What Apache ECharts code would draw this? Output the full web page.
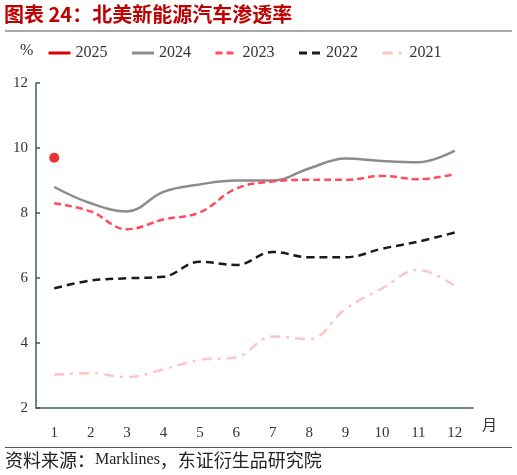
<!DOCTYPE html>
<html>
<head>
<meta charset="utf-8">
<script src="https://cdn.jsdelivr.net/npm/echarts@6/dist/echarts.min.js"></script>
<style>
  html, body { margin: 0; padding: 0; background: #fff; }
  #main { width: 517px; height: 475px; }
</style>
</head>
<body>
<div id="main"></div>
<script>
var months = ['1', '2', '3', '4', '5', '6', '7', '8', '9', '10', '11', '12'];
var y2025 = [9.7, null, null, null, null, null, null, null, null, null, null, null];
var y2024 = [8.8, 8.3, 8.05, 8.65, 8.88, 9.0, 9.0, 9.37, 9.68, 9.6, 9.56, 9.92];
var y2023 = [8.3, 8.05, 7.5, 7.8, 8.02, 8.75, 8.97, 9.02, 9.02, 9.14, 9.04, 9.2];
var y2022 = [5.68, 5.92, 5.99, 6.04, 6.5, 6.4, 6.8, 6.64, 6.64, 6.9, 7.12, 7.4];
var y2021 = [3.02, 3.07, 2.95, 3.19, 3.48, 3.56, 4.2, 4.12, 5.05, 5.68, 6.25, 5.75];
var yTicks = [2, 4, 6, 8, 10, 12];

var serif = '"Liberation Serif", "DejaVu Serif", serif';
var cjk = '"Noto Sans CJK SC", sans-serif';
var axisColor = '#3f5b5b';

var myChart = echarts.init(document.getElementById('main'));

function lineSeries(name, data, color, type) {
  return {
    name: name,
    type: 'line',
    data: data,
    smooth: 0.4,
    symbol: 'none',
    lineStyle: { color: color, width: 2.5, type: type },
    itemStyle: { color: color },
    z: 3
  };
}

myChart.setOption({
  animation: false,
  grid: { left: 36, right: 44, top: 83, bottom: 67 },
  legend: {
    left: 42,
    top: 40,
    itemWidth: 22,
    itemHeight: 10,
    itemGap: 23,
    itemStyle: { opacity: 0 },
    lineStyle: { width: 3 },
    textStyle: { fontFamily: serif, fontSize: 16, color: '#333' },
    data: ['2025', '2024', '2023', '2022', '2021']
  },
  xAxis: {
    type: 'category',
    data: months,
    boundaryGap: true,
    axisLine: { lineStyle: { color: axisColor, width: 1.5 } },
    axisTick: { inside: true, length: 4, lineStyle: { color: axisColor, width: 1.5 } },
    axisLabel: { fontFamily: serif, fontSize: 15, color: '#333', margin: 18 }
  },
  yAxis: {
    type: 'value',
    min: 2,
    max: 12,
    interval: 2,
    splitLine: { show: false },
    axisLine: { show: true, lineStyle: { color: axisColor, width: 1.5 } },
    axisTick: { show: true, inside: true, length: 4, lineStyle: { color: axisColor, width: 1.5 } },
    axisLabel: { fontFamily: serif, fontSize: 15, color: '#333', margin: 8,
      formatter: function (v) { return yTicks.indexOf(v) >= 0 ? String(v) : ''; } }
  },
  series: [
    lineSeries('2025', months.map(function () { return null; }), '#e00000', 'solid'),
    lineSeries('2024', y2024, '#8c8c8c', 'solid'),
    lineSeries('2023', y2023, '#ff4b5a', [7, 4]),
    lineSeries('2022', y2022, '#1a1a1a', [8, 5]),
    lineSeries('2021', y2021, '#ffc4c4', [10, 6, 3, 6]),
    {
      name: '2025点',
      type: 'scatter',
      data: y2025,
      symbol: 'circle',
      symbolSize: 10,
      itemStyle: { color: '#e00000' },
      z: 5
    }
  ],
  graphic: [
    { type: 'text', left: 4, top: 4,
      style: { text: '图表 24：北美新能源汽车渗透率', fill: '#c00000',
        font: 'bold 20px ' + cjk } },
    { type: 'line', shape: { x1: 5, y1: 31, x2: 512, y2: 31 },
      style: { stroke: '#555', lineWidth: 1.2 } },
    { type: 'text', left: 20, top: 43,
      style: { text: '%', fill: '#333', font: '16px ' + serif } },
    { type: 'text', left: 482, top: 417,
      style: { text: '月', fill: '#333', font: '15px ' + cjk } },
    { type: 'line', shape: { x1: 5, y1: 447.5, x2: 512, y2: 447.5 },
      style: { stroke: '#555', lineWidth: 1.2 } },
    { type: 'text', left: 5, top: 451,
      style: {
        text: '{c|资料来源：}{l|Marklines}{c|，东证衍生品研究院}',
        rich: {
          c: { fontFamily: cjk, fontSize: 18, fill: '#222' },
          l: { fontFamily: serif, fontSize: 16, fill: '#222' }
        }
      } }
  ]
});
</script>
</body>
</html>
